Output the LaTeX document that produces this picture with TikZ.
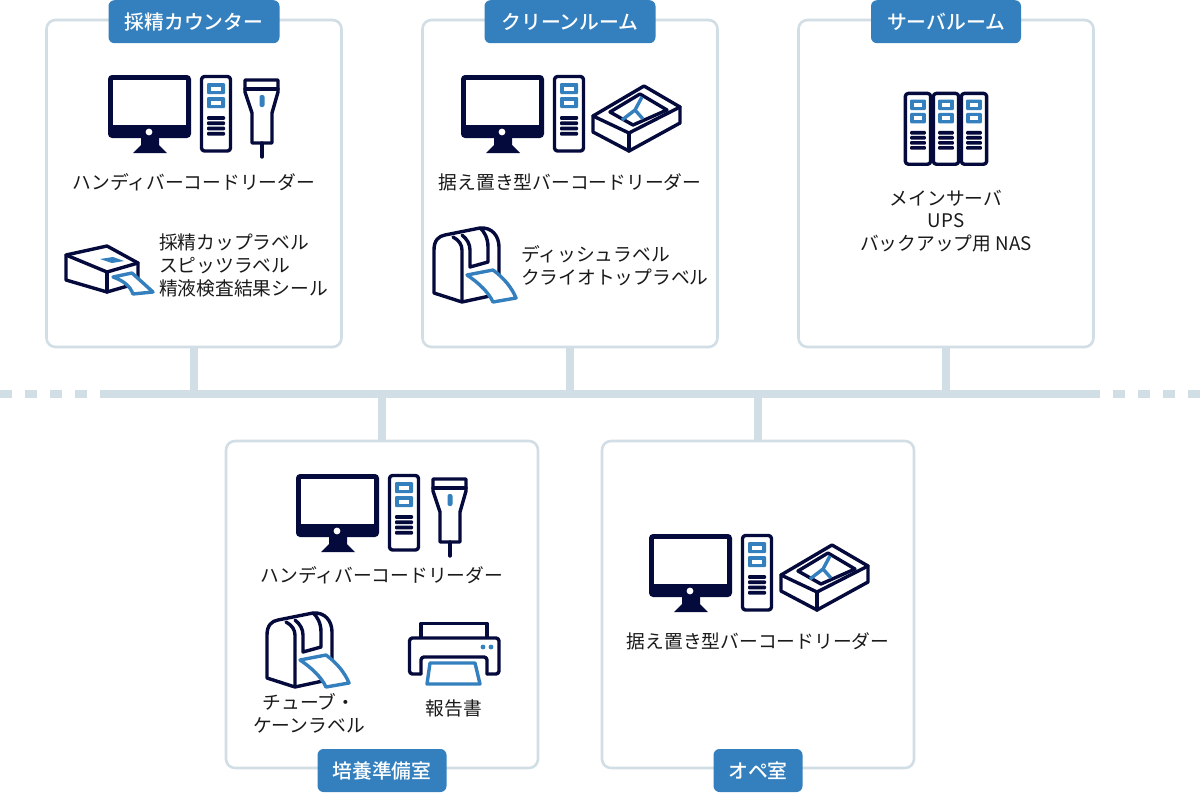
\documentclass[tikz,border=0pt]{standalone}
\usepackage{fontspec}
\setmainfont{Noto Sans CJK JP}
\newfontfamily\tagfont{Noto Sans CJK JP Medium}
\definecolor{navy}{HTML}{050A3C}
\definecolor{tagblue}{HTML}{3480BE}
\definecolor{linegray}{HTML}{D2DEE6}
\definecolor{txt}{HTML}{1A1A1A}
\tikzset{
	room/.style={draw=linegray, line width=2.6pt, rounded corners=9pt, fill=white, minimum height=327pt, inner sep=0pt},
	tag/.style={fill=tagblue, text=white, rounded corners=6pt, minimum height=43pt, inner sep=0pt, font=\fontsize{19.8}{24}\tagfont},
	lab/.style={text=txt, inner sep=0pt, font=\fontsize{18.75}{22.6}\selectfont},
	bus/.style={draw=linegray, line width=7.5pt},
	ink/.style={draw=navy, line width=3.4pt, line join=round, line cap=round},
	blueink/.style={draw=tagblue, line width=3.4pt, line join=round},
	tower/.pic={
		\draw[ink, rounded corners=3pt, fill=white] (1.5,1.5) rectangle (30.5,76);
		\foreach \j in {8,22} {
			\fill[tagblue, rounded corners=1pt] (7,\j) rectangle (25,\j+11);
			\fill[white] (11,\j+3.5) rectangle (21,\j+7.5);
		}
		\foreach \j in {41,46.3,51.6,56.9} \fill[navy, rounded corners=1pt] (7,\j) rectangle (25,\j+3.8);
	},
	desktop/.pic={
		\fill[navy] (33,62) -- (33,70) -- (25,78) -- (59,78) -- (51,70) -- (51,62) -- cycle;
		\fill[navy, rounded corners=4pt] (0,0) rectangle (83,63);
		\fill[white] (5,5) rectangle (78,50);
		\fill[white] (41,57) circle(3.4pt);
		\pic at (92,0) {tower};
	},
	scanner/.pic={
		\draw[ink, fill=white] (1,1) -- (34,1) -- (34,13) -- (28,34) -- (28,64) -- (8,64) -- (8,34) -- (1,13) -- cycle;
		\draw[ink] (1,10) -- (34,10);
		\draw[ink] (18,64) -- (18,78);
		\fill[tagblue, rounded corners=2pt] (15.5,16) rectangle (20.5,28);
	},
	flatbed/.pic={
		\draw[ink, fill=white] (1,30) -- (52,0) -- (88,21) -- (88,37) -- (37,65) -- (1,46) -- cycle;
		\draw[ink] (1,30) -- (37,47) -- (88,21);
		\draw[ink] (37,47) -- (37,65);
		\draw[ink] (48,8) -- (75,24) -- (41,39) -- (18,26) -- cycle;
		\draw[blueink] (50,11) -- (43,24) -- (30,34);
		\draw[blueink] (43,24) -- (51,33);
	},
	boxprinter/.pic={
		\draw[ink, fill=white] (0,9) -- (41,0) -- (72,17) -- (72,37) -- (41,46) -- (0,34) -- cycle;
		\draw[ink] (0,9) -- (41,26) -- (72,17);
		\draw[ink] (41,26) -- (41,46);
		\fill[tagblue] (34,13) -- (47,11) -- (58,15) -- (46,17) -- cycle;
		\draw[blueink, fill=white] (47,31) -- (66,27) -- (87,46) -- (67,48) .. controls (64,40) and (58,35) .. cycle;
	},
	labelprinter/.pic={
		\draw[ink, fill=white] (0,65) -- (0,22) .. controls (0,12) and (5,8) .. (11,7) -- (46,0) .. controls (58,-1) and (65,8) .. (65,19) -- (65,66) -- (28,74) -- cycle;
		\draw[ink] (19,9) .. controls (25,12) and (28,17) .. (28,22) -- (28,73);
		\draw[ink] (28,7) .. controls (33,11) and (36,16) .. (36,22) -- (36,39) -- (54,34) -- (54,19) .. controls (54,10) and (50,3) .. (46,0);
		\draw[blueink, fill=white] (33,47) -- (59,42) .. controls (70,50) and (78,60) .. (82,70) -- (59,74) .. controls (55,65) and (45,55) .. cycle;
	},
	officeprinter/.pic={
		\draw[ink, fill=white] (13,16) -- (13,1.5) -- (79,1.5) -- (79,16);
		\draw[ink, rounded corners=3pt, fill=white] (13,52) -- (1.5,52) -- (1.5,16) -- (91,16) -- (91,52) -- (79,52);
		\draw[ink, rounded corners=3pt] (13,52) -- (13,35) -- (79,35) -- (79,52);
		\draw[blueink, fill=white] (22,41) -- (67,41) -- (72,62) -- (19,62) -- cycle;
		\foreach \i in {75,83} \fill[tagblue] (\i,25) circle(2.4pt);
	}
}
\begin{document}
\begin{tikzpicture}[x=1pt, y=-1pt, line join=round]
	\useasboundingbox (0,0) rectangle (1200,793);
	% rooms
	\node[room, minimum width=295pt] (saisei) at (194,183.5) {};
	\node[room, minimum width=295pt] (clean) at (570,183.5) {};
	\node[room, minimum width=295pt] (server) at (946,183.5) {};
	\node[room, minimum width=312pt] (baiyo) at (382,604.5) {};
	\node[room, minimum width=312pt] (ope) at (758,604.5) {};
	\node[tag, minimum width=171pt, yshift=-3pt] (saiseiTag) at (saisei.north) {採精カウンター};
	\node[tag, minimum width=171pt, yshift=-3pt] (cleanTag) at (clean.north) {クリーンルーム};
	\node[tag, minimum width=150pt, yshift=-3pt] (serverTag) at (server.north) {サーバルーム};
	\node[tag, minimum width=129pt, yshift=-1.2pt] (baiyoTag) at (baiyo.south) {培養準備室};
	\node[tag, minimum width=89pt, yshift=-1.2pt] (opeTag) at (ope.south) {オペ室};
	% network
	\coordinate (busL) at (100,394);
	\coordinate (busR) at (1100,394);
	\draw[bus] (busL) -- (busR);
	\foreach \i in {0,25,50,75} \draw[bus] (\i,394) -- (\i+12,394);
	\foreach \i in {1113,1138,1163,1188} \draw[bus] (\i,394) -- (\i+12,394);
	\foreach \r in {saisei,clean,server} \draw[bus] (\r.south) -- (\r.south |- busL);
	\foreach \r in {baiyo,ope} \draw[bus] (\r.north) -- (\r.north |- busL);
	% icons
	\pic at (108,75) {desktop};
	\pic at (244,79) {scanner};
	\pic at (66,246) {boxprinter};
	\pic at (461,75) {desktop};
	\pic at (592,86) {flatbed};
	\pic at (434,228) {labelprinter};
	\foreach \i in {904,932,960} \pic[xscale=0.875, yscale=0.95] at (\i,92) {tower};
	\pic at (296,474) {desktop};
	\pic at (432,478) {scanner};
	\pic at (267,613) {labelprinter};
	\pic at (408,622) {officeprinter};
	\pic at (649,534) {desktop};
	\pic at (780,545) {flatbed};
	% labels
	\node[lab] (l1) at (194,182) {ハンディバーコードリーダー};
	\node[lab, align=left, anchor=west] (l2) at (159,265.5) {採精カップラベル\\スピッツラベル\\精液検査結果シール};
	\node[lab] (l3) at (570,182) {据え置き型バーコードリーダー};
	\node[lab, align=left, anchor=west] (l4) at (521,265.5) {ディッシュラベル\\クライオトップラベル};
	\node[lab, align=center] (l5) at (946,221) {メインサーバ\\UPS\\バックアップ用 NAS};
	\node[lab] (l6) at (382,575) {ハンディバーコードリーダー};
	\node[lab, align=center] (l7) at (309,713.5) {チューブ・\\ケーンラベル};
	\node[lab] (l8) at (454,708) {報告書};
	\node[lab] (l9) at (758,641) {据え置き型バーコードリーダー};
\end{tikzpicture}
\end{document}
